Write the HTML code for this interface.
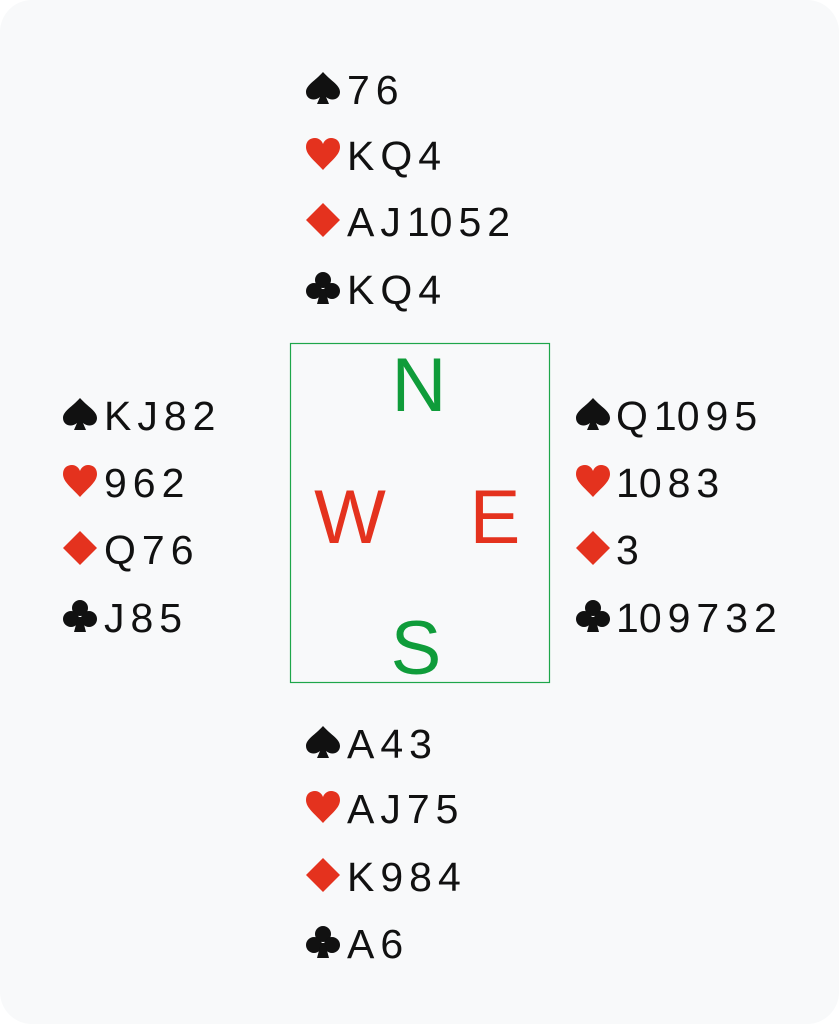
<!DOCTYPE html>
<html><head><style>
html,body{margin:0;padding:0;background:#fff;}
svg{display:block;}
.c{font-family:"Liberation Sans",sans-serif;font-size:41px;letter-spacing:6px;fill:#111;}
.d{font-family:"Liberation Sans",sans-serif;font-size:76px;}
</style></head><body>
<svg width="839" height="1024" viewBox="0 0 839 1024">
<defs>
<symbol id="sp" viewBox="0 0 36 34"><path d="M18 1 C10 10 1 14 1 21 C1 28 9 31 15 26 L12 33 L24 33 L21 26 C27 31 35 28 35 21 C35 14 26 10 18 1Z" fill="#111"/></symbol>
<symbol id="he" viewBox="0 0 36 34"><path d="M18 33 C10 24 1 18 1 10 C1 4 5 1 10 1 C14 1 17 4 18 7 C19 4 22 1 26 1 C31 1 35 4 35 10 C35 18 26 24 18 33Z" fill="#e4321e"/></symbol>
<symbol id="di" viewBox="0 0 36 34"><path d="M18 0 L35 17 L18 34 L1 17Z" fill="#e4321e"/></symbol>
<symbol id="cl" viewBox="0 0 36 34"><g fill="#111"><circle cx="18" cy="9" r="8"/><circle cx="9" cy="20" r="8"/><circle cx="27" cy="20" r="8"/><path d="M16 18 L12 33 L24 33 L20 18Z"/></g></symbol>
</defs>
<rect x="0" y="0" width="839" height="1024" rx="32" fill="#f8f9fa"/>
<rect x="290.5" y="343.5" width="259" height="339" fill="none" stroke="#1ea64a" stroke-width="1.2"/>
<text class="d" x="419" y="411" text-anchor="middle" fill="#0f9c3a">N</text>
<text class="d" x="350" y="543" text-anchor="middle" fill="#e4321e">W</text>
<text class="d" x="495" y="543" text-anchor="middle" fill="#e4321e">E</text>
<text class="d" x="416" y="674" text-anchor="middle" fill="#0f9c3a">S</text>

<!-- North -->
<use href="#sp" x="305" y="71" width="36" height="34"/><text class="c" x="347" y="104">76</text>
<use href="#he" x="305" y="137" width="36" height="34"/><text class="c" x="347" y="170">KQ4</text>
<use href="#di" x="305" y="203" width="36" height="34"/><text class="c" x="347" y="236">AJ<tspan letter-spacing="0">1</tspan>052</text>
<use href="#cl" x="305" y="271" width="36" height="34"/><text class="c" x="347" y="304">KQ4</text>

<!-- West -->
<use href="#sp" x="62" y="397" width="36" height="34"/><text class="c" x="104" y="430">KJ82</text>
<use href="#he" x="62" y="464" width="36" height="34"/><text class="c" x="104" y="497">962</text>
<use href="#di" x="62" y="531" width="36" height="34"/><text class="c" x="104" y="564">Q76</text>
<use href="#cl" x="62" y="599" width="36" height="34"/><text class="c" x="104" y="632">J85</text>

<!-- East -->
<use href="#sp" x="575" y="397" width="36" height="34"/><text class="c" x="616" y="430">Q<tspan letter-spacing="0">1</tspan>095</text>
<use href="#he" x="575" y="464" width="36" height="34"/><text class="c" x="616" y="497"><tspan letter-spacing="0">1</tspan>083</text>
<use href="#di" x="575" y="531" width="36" height="34"/><text class="c" x="616" y="564">3</text>
<use href="#cl" x="575" y="599" width="36" height="34"/><text class="c" x="616" y="632"><tspan letter-spacing="0">1</tspan>09732</text>

<!-- South -->
<use href="#sp" x="305" y="725" width="36" height="34"/><text class="c" x="347" y="758">A43</text>
<use href="#he" x="305" y="790" width="36" height="34"/><text class="c" x="347" y="823">AJ75</text>
<use href="#di" x="305" y="858" width="36" height="34"/><text class="c" x="347" y="891">K984</text>
<use href="#cl" x="305" y="925" width="36" height="34"/><text class="c" x="347" y="958">A6</text>
</svg>
</body></html>
